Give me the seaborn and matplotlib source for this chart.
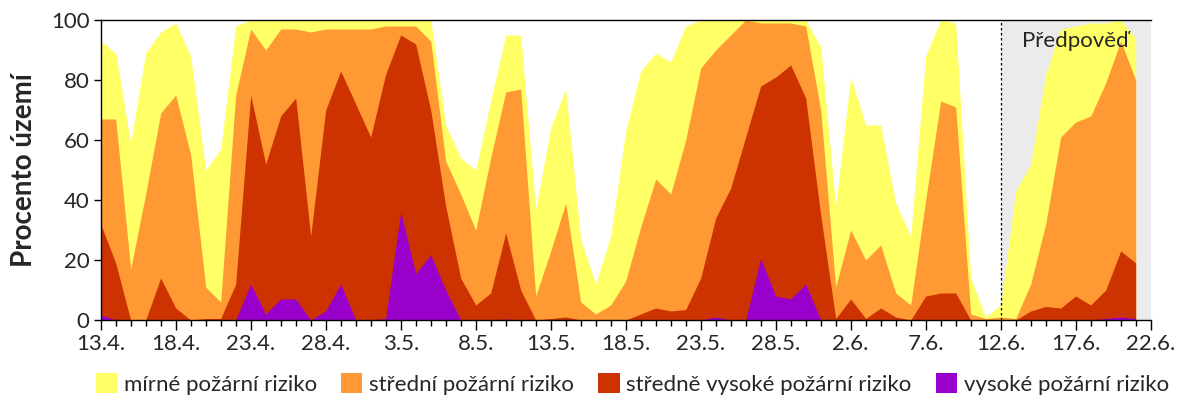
import numpy as np
import matplotlib
matplotlib.use('Agg')
import matplotlib.pyplot as plt
import seaborn as sns
from matplotlib.patches import Patch
from matplotlib.ticker import MultipleLocator

# kumulativní podíl území (%) - den po dni od 13.4. do 21.6.
# alespoň mírné riziko (horní okraj žluté plochy)
mirne = [93, 89, 59, 89, 96, 99, 88, 50, 57, 98, 100, 100,
         100, 100, 100, 100, 100, 100, 100, 100, 100, 100, 100,
         65, 54, 50, 73, 95, 95, 37, 64, 77, 27, 12, 28,
         63, 83, 89, 86, 98, 100, 100, 100, 100, 100, 100,
         100, 100, 91, 38, 81, 65, 65, 39, 28, 88, 100,
         99, 14, 1, 5, 43, 52, 82, 97, 98, 99, 99, 100, 94]
# alespoň střední riziko
stredni = [67, 67, 17, 42, 69, 75, 55, 11, 6, 75, 97, 90,
           97, 97, 96, 97, 97, 97, 97, 98, 98, 98, 93,
           53, 42, 30, 54, 76, 77, 8, 23, 39, 6, 2, 5,
           13, 31, 47, 42, 60, 84, 90, 95, 100, 99, 99,
           99, 98, 70, 11, 30, 20, 25, 9, 5, 40, 73,
           71, 2, 0.5, 1, 0.5, 12, 32, 61, 66, 68, 79, 93, 80]
# alespoň středně vysoké riziko
str_vysoke = [32, 19, 0, 0, 14, 4, 0, 0.5, 0.5, 12, 75, 52,
              68, 74, 28, 70, 83, 72, 61, 82, 95, 92, 70,
              38, 14, 5, 9, 29, 10, 0, 0.5, 1, 0, 0, 0,
              0, 2, 4, 3, 3.5, 14, 34, 44, 61, 78, 81,
              85, 74, 35, 0.5, 7, 0.5, 4, 1, 0, 8, 9,
              9, 0, 0, 0, 0, 3, 4.5, 4, 8, 5, 10, 23, 19]
# vysoké riziko
vysoke = [1.7, 0, 0, 0, 0, 0, 0, 0, 0, 0, 12, 2,
          7, 7, 0, 3, 12, 0, 0, 0.5, 36, 15.5, 21.7,
          10, 0, 0, 0, 0.3, 0, 0, 0, 0, 0, 0, 0,
          0, 0, 0, 0, 0, 0, 1, 0, 0, 20.5, 8,
          7, 12, 0, 0, 0, 0, 0, 0, 0, 0, 0,
          0, 0, 0, 0, 0, 0, 0, 0, 0, 0, 0.5, 1, 0.5]

tick_labels = ['13.4.', '18.4.', '23.4.', '28.4.', '3.5.', '8.5.', '13.5.', '18.5.',
               '23.5.', '28.5.', '2.6.', '7.6.', '12.6.', '17.6.', '22.6.']
zacatek_predpovedi = 60  # 12.6.

labels = ['mírné požární riziko', 'střední požární riziko',
          'středně vysoké požární riziko', 'vysoké požární riziko']
colors = ['#FFFF66', '#FF9933', '#CC3300', '#9900CC']

sns.set_theme(style='ticks')
plt.rcParams['font.family'] = ['Lato', 'DejaVu Sans']

fig = plt.figure(figsize=(12, 4), dpi=100)
ax = fig.add_axes([0.0839, 0.2, 0.875, 0.75])

den = np.arange(len(mirne))
konec = (len(tick_labels) - 1) * 5

# šedé pozadí pro předpověď
ax.axvspan(zacatek_predpovedi, konec, color='#EBEBEB', zorder=0, lw=0)

for vals, c in zip([mirne, stredni, str_vysoke, vysoke], colors):
    ax.fill_between(den, 0, vals, color=c, lw=0, zorder=1)

ax.axvline(zacatek_predpovedi, color='black', ls=(0, (2, 2)), lw=0.9, zorder=2)
ax.text(65, 93, 'Předpověď', ha='center', va='center', fontsize=16, zorder=3)

ax.set_xlim(0, konec)
ax.set_ylim(0, 100)
ax.set_xticks(np.arange(0, konec + 1, 5))
ax.set_xticklabels(tick_labels, fontsize=16)
ax.xaxis.set_minor_locator(MultipleLocator(1))
ax.set_yticks(np.arange(0, 101, 20))
ax.tick_params(axis='y', labelsize=16, length=5, width=1, color='black', pad=3)
ax.tick_params(axis='x', which='major', length=7, width=1, color='black', pad=3)
ax.tick_params(axis='x', which='minor', length=4, width=1, color='black')
ax.set_ylabel('Procento území', fontsize=20, fontweight='bold', labelpad=10)

for s in ['left', 'bottom', 'top']:
    ax.spines[s].set_color('black')
    ax.spines[s].set_linewidth(1)
ax.spines['right'].set_visible(False)
ax.grid(False)

handles = [Patch(facecolor=c, edgecolor='none') for c in colors]
fig.legend(handles, labels, loc='center', bbox_to_anchor=(0.527, 0.04), ncol=4,
           frameon=False, fontsize=16, handlelength=0.95, handleheight=0.95,
           handletextpad=0.3, columnspacing=1.1, borderpad=0.2)

fig.savefig('out.png', dpi=100)
